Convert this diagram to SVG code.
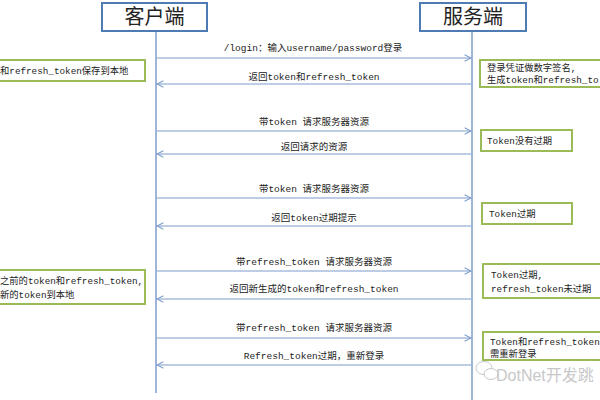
<svg xmlns="http://www.w3.org/2000/svg" width="600" height="400" viewBox="0 0 600 400">
<style>
.actor{fill:#fff;stroke:#4f7bb5;stroke-width:2}
.atxt{font-family:"Noto Sans CJK SC",sans-serif;font-size:20px;fill:#222;text-anchor:middle}
.life{stroke:#7b9ccb;stroke-width:1.5;fill:none}
.msg{stroke:#7b9ccb;stroke-width:1.2;fill:none}
.lbl{font-family:"Liberation Mono","Noto Sans CJK SC",monospace;font-size:9.5px;fill:#222;text-anchor:middle}
.note{fill:#fff;stroke:#9bbb59;stroke-width:2}
.ntxt{font-family:"Liberation Mono","Noto Sans CJK SC",monospace;font-size:9.3px;fill:#222}
.wm{font-family:"Liberation Sans","Noto Sans CJK SC",sans-serif;font-size:16px;fill:#c8c8c8}
</style>
<defs>
<marker id="ah" viewBox="0 0 10 10" refX="9" refY="5" markerWidth="8" markerHeight="8" orient="auto-start-reverse" markerUnits="userSpaceOnUse">
<path d="M1,1 L9,5 L1,9" fill="none" stroke="#7b9ccb" stroke-width="1.3"/>
</marker>
</defs>
<rect width="600" height="400" fill="#fff"/>
<g id="lifelines">
<line class="life" x1="156" y1="31" x2="156" y2="393"/>
<line class="life" x1="472" y1="31" x2="472" y2="400"/>
</g>
<g id="client"><rect class="actor" x="102" y="3" width="105" height="28"/><text class="atxt" x="154.5" y="24">客户端</text></g>
<g id="server"><rect class="actor" x="420" y="3" width="106" height="28"/><text class="atxt" x="473" y="24">服务端</text></g>
<g id="connectors">
<line class="msg" x1="157" y1="58" x2="471" y2="58" marker-end="url(#ah)"/>
<line class="msg" x1="471" y1="84" x2="157" y2="84" marker-end="url(#ah)"/>
<line class="msg" x1="157" y1="131" x2="471" y2="131" marker-end="url(#ah)"/>
<line class="msg" x1="471" y1="154" x2="157" y2="154" marker-end="url(#ah)"/>
<line class="msg" x1="157" y1="198" x2="471" y2="198" marker-end="url(#ah)"/>
<line class="msg" x1="471" y1="226" x2="157" y2="226" marker-end="url(#ah)"/>
<line class="msg" x1="157" y1="271" x2="471" y2="271" marker-end="url(#ah)"/>
<line class="msg" x1="471" y1="299" x2="157" y2="299" marker-end="url(#ah)"/>
<line class="msg" x1="157" y1="338" x2="471" y2="338" marker-end="url(#ah)"/>
<line class="msg" x1="471" y1="365" x2="157" y2="365" marker-end="url(#ah)"/>
<text class="lbl" x="313" y="51">/login：输入username/password登录</text>
<text class="lbl" x="314" y="80">返回token和refresh_token</text>
<text class="lbl" x="314" y="125">带token 请求服务器资源</text>
<text class="lbl" x="314" y="150">返回请求的资源</text>
<text class="lbl" x="314" y="192">带token 请求服务器资源</text>
<text class="lbl" x="314" y="221">返回token过期提示</text>
<text class="lbl" x="314" y="265">带refresh_token 请求服务器资源</text>
<text class="lbl" x="314" y="292">返回新生成的token和refresh_token</text>
<text class="lbl" x="314" y="331">带refresh_token 请求服务器资源</text>
<text class="lbl" x="314" y="359">Refresh_token过期，重新登录</text>
</g>
<g id="note-client-1"><rect class="note" x="-2" y="60" width="147" height="21"/><text class="ntxt" x="0" y="74">和refresh_token保存到本地</text></g>
<g id="note-client-2"><rect class="note" x="-2" y="270" width="147" height="34"/><text class="ntxt" x="0" y="284">之前的token和refresh_token,</text><text class="ntxt" x="0" y="298">新的token到本地</text></g>
<g id="note-server-1"><rect class="note" x="480" y="60" width="130" height="27"/><text class="ntxt" x="487" y="71">登录凭证做数字签名,</text><text class="ntxt" x="487" y="83">生成token和refresh_to</text></g>
<g id="note-server-2"><rect class="note" x="481" y="130" width="91" height="21"/><text class="ntxt" x="487" y="144">Token没有过期</text></g>
<g id="note-server-3"><rect class="note" x="482" y="203" width="90" height="21"/><text class="ntxt" x="489" y="217">Token过期</text></g>
<g id="note-server-4"><rect class="note" x="483" y="264" width="130" height="34"/><text class="ntxt" x="491" y="278">Token过期,</text><text class="ntxt" x="491" y="292">refresh_token未过期</text></g>
<g id="note-server-5"><rect class="note" x="483" y="332" width="130" height="28"/><text class="ntxt" x="490" y="345">Token和refresh_token</text><text class="ntxt" x="490" y="357">需重新登录</text></g>
<g id="watermark">
<ellipse cx="484" cy="368" rx="8" ry="6.5" fill="#fff" stroke="#c8c8c8" stroke-width="1"/>
<ellipse cx="491" cy="374" rx="7" ry="5.5" fill="#fff" stroke="#c8c8c8" stroke-width="1"/>
<text class="wm" x="496" y="381">DotNet开发跳</text>
</g>
</svg>
